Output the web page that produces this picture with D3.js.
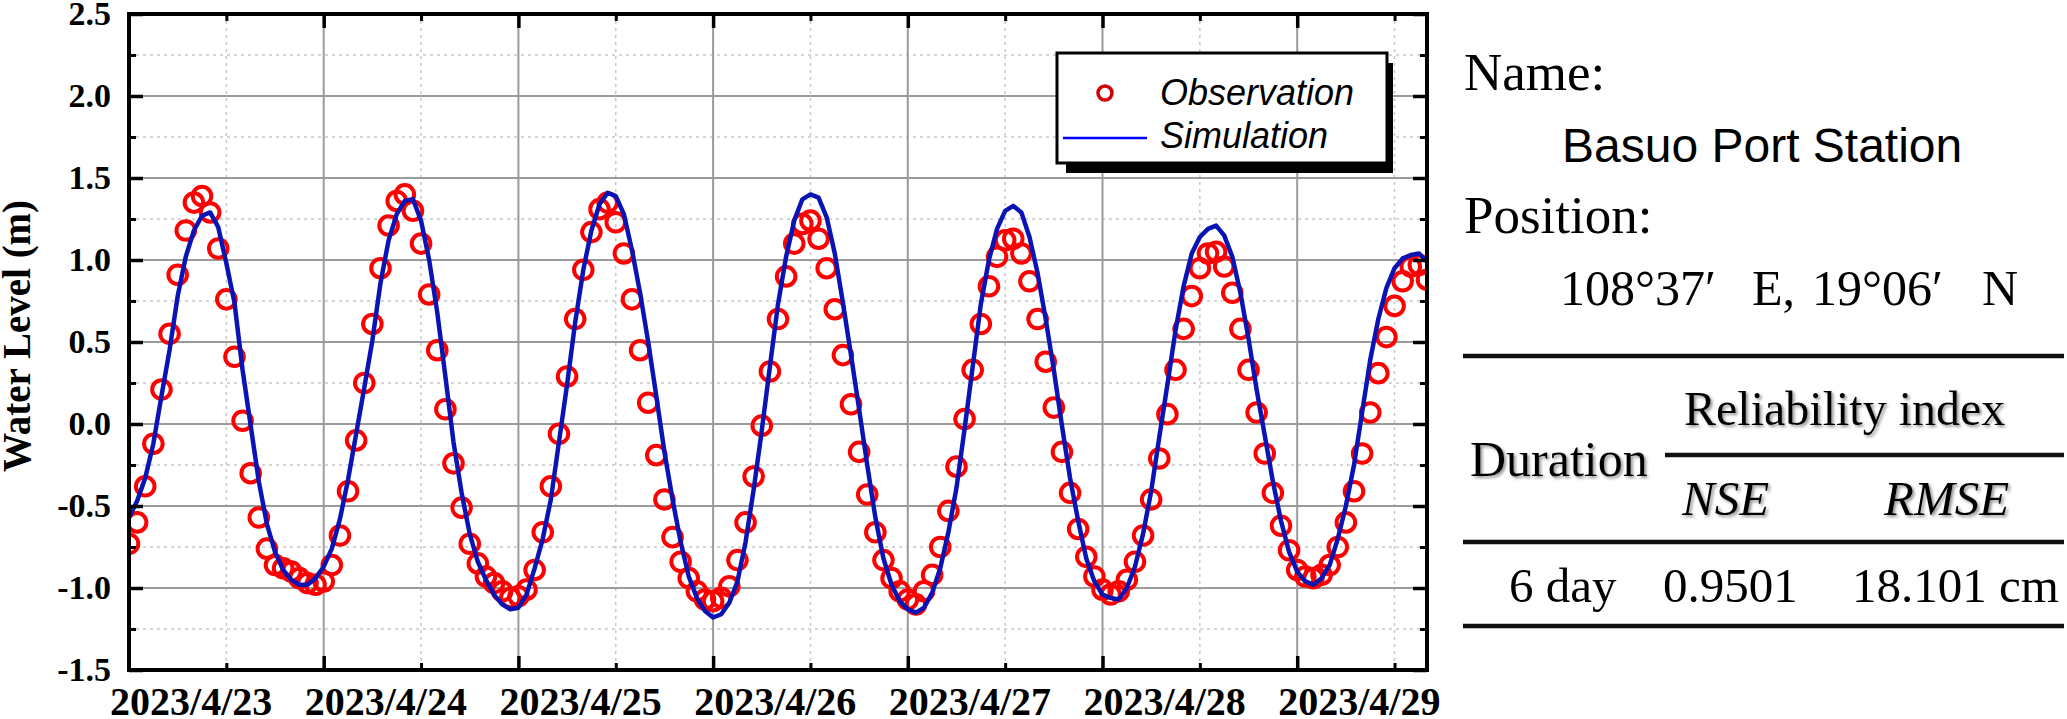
<!DOCTYPE html>
<html>
<head>
<meta charset="utf-8">
<script src="https://cdn.jsdelivr.net/npm/d3@7"></script>
<style>
    body { margin: 0; background: #fff; }
    svg { display: block; }
</style>
</head>
<body>
<div id="chart"></div>
<script>
// Hourly water level (m), hour 0 = left edge of the axis
const obsLevel = [
    -0.73, -0.60, -0.38, -0.12, 0.21, 0.55, 0.91, 1.18, 1.35, 1.39,
    1.29, 1.07, 0.76, 0.41, 0.02, -0.30, -0.57, -0.76, -0.86, -0.88,
    -0.90, -0.94, -0.97, -0.98, -0.96, -0.86, -0.68, -0.41, -0.10, 0.25,
    0.61, 0.95, 1.21, 1.36, 1.40, 1.30, 1.10, 0.79, 0.45, 0.09,
    -0.24, -0.51, -0.73, -0.85, -0.93, -0.97, -1.02, -1.06, -1.05, -1.01,
    -0.89, -0.66, -0.38, -0.06, 0.29, 0.64, 0.94, 1.17, 1.31, 1.35,
    1.23, 1.04, 0.76, 0.45, 0.13, -0.19, -0.46, -0.69, -0.84, -0.94,
    -1.02, -1.07, -1.08, -1.06, -0.99, -0.83, -0.60, -0.32, -0.01, 0.32,
    0.64, 0.90, 1.10, 1.22, 1.24, 1.13, 0.95, 0.70, 0.42, 0.12,
    -0.17, -0.43, -0.66, -0.83, -0.94, -1.02, -1.07, -1.10, -1.02, -0.92,
    -0.75, -0.53, -0.26, 0.03, 0.33, 0.61, 0.84, 1.02, 1.12, 1.13,
    1.04, 0.87, 0.64, 0.38, 0.10, -0.17, -0.42, -0.64, -0.81, -0.93,
    -1.01, -1.04, -1.02, -0.95, -0.84, -0.68, -0.46, -0.21, 0.06, 0.33,
    0.58, 0.78, 0.95, 1.04, 1.05, 0.96, 0.80, 0.58, 0.33, 0.07,
    -0.18, -0.42, -0.62, -0.77, -0.89, -0.93, -0.94, -0.92, -0.86, -0.75,
    -0.60, -0.41, -0.18, 0.07, 0.31, 0.53, 0.72, 0.87, 0.96, 0.97,
    0.88
];

const simLevel = [
    -0.57, -0.47, -0.33, -0.12, 0.17, 0.45, 0.78, 1.02, 1.18, 1.27,
    1.29, 1.20, 0.98, 0.74, 0.33, -0.01, -0.35, -0.61, -0.78, -0.89,
    -0.95, -0.98, -0.98, -0.94, -0.87, -0.76, -0.58, -0.34, -0.06, 0.22,
    0.51, 0.86, 1.12, 1.28, 1.36, 1.37, 1.24, 1.00, 0.68, 0.29,
    -0.11, -0.42, -0.67, -0.84, -0.95, -1.04, -1.10, -1.13, -1.12, -1.04,
    -0.88, -0.70, -0.46, -0.11, 0.24, 0.62, 0.94, 1.18, 1.34, 1.41,
    1.39, 1.28, 1.06, 0.80, 0.50, 0.17, -0.17, -0.46, -0.72, -0.93,
    -1.06, -1.14, -1.18, -1.16, -1.09, -0.96, -0.72, -0.40, -0.04, 0.35,
    0.73, 1.02, 1.24, 1.37, 1.40, 1.38, 1.26, 1.04, 0.74, 0.42,
    0.09, -0.25, -0.57, -0.82, -0.98, -1.08, -1.13, -1.15, -1.12, -1.03,
    -0.88, -0.66, -0.39, -0.03, 0.35, 0.73, 1.00, 1.19, 1.30, 1.33,
    1.29, 1.14, 0.92, 0.64, 0.33, -0.01, -0.33, -0.59, -0.82, -0.96,
    -1.04, -1.06, -1.07, -1.00, -0.87, -0.67, -0.41, -0.08, 0.24, 0.57,
    0.84, 1.04, 1.14, 1.19, 1.21, 1.15, 1.02, 0.80, 0.52, 0.21,
    -0.07, -0.35, -0.59, -0.78, -0.90, -0.96, -0.98, -0.94, -0.86, -0.70,
    -0.50, -0.25, 0.07, 0.39, 0.64, 0.83, 0.95, 1.01, 1.03, 1.04,
    0.99
];

// Axis ticks (x in hours)
const dateLabels = ["2023/4/23", "2023/4/24", "2023/4/25", "2023/4/26", "2023/4/27", "2023/4/28", "2023/4/29"];
const xMajorTicks = [24, 48, 72, 96, 120, 144];
const xMinorTicks = [12, 36, 60, 84, 108, 132, 156];
const yMajorTicks = [-1.5, -1.0, -0.5, 0.0, 0.5, 1.0, 1.5, 2.0, 2.5];
const yMinorTicks = [-1.25, -0.75, -0.25, 0.25, 0.75, 1.25, 1.75, 2.25];

// Table on the right
const stationName = "Basuo Port Station";
const stationPos = ["108°37′", "E,", "19°06′", "N"];
const tableRow = ["6 day", "0.9501", "18.101 cm"];

const width = 2067, height = 719;
const plot = { left: 129, top: 14, right: 1427, bottom: 670 };

const svg = d3.select("#chart").append("svg")
    .attr("width", width)
    .attr("height", height);

const defs = svg.append("defs");
defs.append("clipPath").attr("id", "plotClip")
    .append("rect")
    .attr("x", plot.left).attr("y", plot.top)
    .attr("width", plot.right - plot.left).attr("height", plot.bottom - plot.top);
defs.append("filter").attr("id", "shadow")
    .attr("x", "-10%").attr("y", "-10%").attr("width", "130%").attr("height", "140%")
    .append("feDropShadow")
    .attr("dx", 2).attr("dy", 2).attr("stdDeviation", 1.5)
    .attr("flood-color", "#666").attr("flood-opacity", 0.7);

const x = d3.scaleLinear().domain([0, obsLevel.length - 1]).range([plot.left, plot.right]);
const y = d3.scaleLinear().domain([-1.5, 2.5]).range([plot.bottom, plot.top]);

// Grid lines
const grid = svg.append("g");
grid.selectAll(".vminor").data(xMinorTicks).join("line")
    .attr("x1", d => x(d)).attr("x2", d => x(d))
    .attr("y1", plot.top).attr("y2", plot.bottom)
    .attr("stroke", "#c8c8c8").attr("stroke-width", 1.5).attr("stroke-dasharray", "3,4");
grid.selectAll(".hminor").data(yMinorTicks).join("line")
    .attr("y1", d => y(d)).attr("y2", d => y(d))
    .attr("x1", plot.left).attr("x2", plot.right)
    .attr("stroke", "#c8c8c8").attr("stroke-width", 1.5).attr("stroke-dasharray", "3,4");
grid.selectAll(".vmajor").data(xMajorTicks).join("line")
    .attr("x1", d => x(d)).attr("x2", d => x(d))
    .attr("y1", plot.top).attr("y2", plot.bottom)
    .attr("stroke", "#9b9b9b").attr("stroke-width", 2);
grid.selectAll(".hmajor").data(yMajorTicks.slice(1, -1)).join("line")
    .attr("y1", d => y(d)).attr("y2", d => y(d))
    .attr("x1", plot.left).attr("x2", plot.right)
    .attr("stroke", "#9b9b9b").attr("stroke-width", 2);

// Data
const dataG = svg.append("g").attr("clip-path", "url(#plotClip)");
dataG.selectAll("circle").data(obsLevel).join("circle")
    .attr("cx", (d, i) => x(i))
    .attr("cy", d => y(d))
    .attr("r", 9.3)
    .attr("fill", "none")
    .attr("stroke", "#ff0000")
    .attr("stroke-width", 4);

const line = d3.line().x((d, i) => x(i)).y(d => y(d));
dataG.append("path")
    .datum(simLevel)
    .attr("d", line)
    .attr("fill", "none")
    .attr("stroke", "#0a14b4")
    .attr("stroke-width", 4.5)
    .attr("stroke-linejoin", "round");

// Ticks (all pointing inward)
function styleTicks(g, w) {
    g.select(".domain").remove();
    g.selectAll(".tick line").attr("stroke", "#000").attr("stroke-width", w);
}
svg.append("g").attr("transform", `translate(0,${plot.bottom})`)
    .call(d3.axisBottom(x).tickValues(xMajorTicks).tickSize(-14).tickFormat(""))
    .call(g => styleTicks(g, 3.5));
svg.append("g").attr("transform", `translate(0,${plot.bottom})`)
    .call(d3.axisBottom(x).tickValues(xMinorTicks).tickSize(-7).tickFormat(""))
    .call(g => styleTicks(g, 3));
svg.append("g").attr("transform", `translate(0,${plot.top})`)
    .call(d3.axisTop(x).tickValues(xMajorTicks).tickSize(-14).tickFormat(""))
    .call(g => styleTicks(g, 3.5));
svg.append("g").attr("transform", `translate(0,${plot.top})`)
    .call(d3.axisTop(x).tickValues(xMinorTicks).tickSize(-7).tickFormat(""))
    .call(g => styleTicks(g, 3));
svg.append("g").attr("transform", `translate(${plot.right},0)`)
    .call(d3.axisRight(y).tickValues(yMajorTicks).tickSize(-14).tickFormat(""))
    .call(g => styleTicks(g, 3.5));
svg.append("g").attr("transform", `translate(${plot.right},0)`)
    .call(d3.axisRight(y).tickValues(yMinorTicks).tickSize(-7).tickFormat(""))
    .call(g => styleTicks(g, 3));
svg.append("g").attr("transform", `translate(${plot.left},0)`)
    .call(d3.axisLeft(y).tickValues(yMinorTicks).tickSize(-7).tickFormat(""))
    .call(g => styleTicks(g, 3));

// Y axis with labels
svg.append("g").attr("transform", `translate(${plot.left},0)`)
    .call(d3.axisLeft(y).tickValues(yMajorTicks).tickSize(-14).tickPadding(18)
        .tickFormat(d => d.toFixed(1)))
    .call(g => styleTicks(g, 3.5))
    .call(g => g.selectAll(".tick text")
        .attr("font-family", "Liberation Serif, Times New Roman, serif")
        .attr("font-weight", "bold")
        .attr("font-size", 34)
        .attr("fill", "#000"));

// Date labels (offset from the day ticks, as in the original figure)
const labelPos = dateLabels.map((d, i) => 7.6 + 24 * i);
svg.append("g").attr("transform", `translate(0,${plot.bottom})`)
    .call(d3.axisBottom(x).tickValues(labelPos).tickSize(0).tickPadding(17)
        .tickFormat((d, i) => dateLabels[i]))
    .call(g => g.select(".domain").remove())
    .call(g => g.selectAll(".tick text")
        .attr("font-family", "Liberation Serif, Times New Roman, serif")
        .attr("font-weight", "bold")
        .attr("font-size", 40)
        .attr("fill", "#000"));

// Frame
svg.append("rect")
    .attr("x", plot.left).attr("y", plot.top)
    .attr("width", plot.right - plot.left).attr("height", plot.bottom - plot.top)
    .attr("fill", "none").attr("stroke", "#000").attr("stroke-width", 4);

// Y title
svg.append("text")
    .attr("transform", "translate(30,336) rotate(-90)")
    .attr("text-anchor", "middle")
    .attr("font-family", "Liberation Serif, Times New Roman, serif")
    .attr("font-weight", "bold")
    .attr("font-size", 39)
    .text("Water Level (m)");

// Legend
const legend = svg.append("g");
legend.append("rect").attr("x", 1066).attr("y", 63).attr("width", 327).attr("height", 110).attr("fill", "#000");
legend.append("rect").attr("x", 1057).attr("y", 53).attr("width", 330).attr("height", 110)
    .attr("fill", "#fff").attr("stroke", "#000").attr("stroke-width", 3);
legend.append("circle").attr("cx", 1105).attr("cy", 93).attr("r", 7)
    .attr("fill", "none").attr("stroke", "#d00000").attr("stroke-width", 3.5);
legend.append("line").attr("x1", 1063).attr("x2", 1147).attr("y1", 138).attr("y2", 138)
    .attr("stroke", "#0000ff").attr("stroke-width", 2.5);
legend.selectAll(".ltext").data(["Observation", "Simulation"]).join("text")
    .attr("x", 1160)
    .attr("y", (d, i) => 105 + i * 43)
    .attr("font-family", "Liberation Sans, Arial, sans-serif")
    .attr("font-style", "italic")
    .attr("font-size", 36)
    .text(d => d);

// Right panel
const serif = "Liberation Serif, Times New Roman, serif";
const info = svg.append("g");
info.append("text").attr("x", 1464).attr("y", 90).attr("font-family", serif).attr("font-size", 53).text("Name:");
info.append("text").attr("x", 1562).attr("y", 162)
    .attr("font-family", "Liberation Sans, Arial, sans-serif").attr("font-size", 48).text(stationName);
info.append("text").attr("x", 1464).attr("y", 233).attr("font-family", serif).attr("font-size", 53).text("Position:");
const posX = [1560, 1752, 1812, 1982];
info.selectAll(".pos").data(stationPos).join("text")
    .attr("x", (d, i) => posX[i]).attr("y", 305)
    .attr("font-family", serif).attr("font-size", 50)
    .text(d => d);

// Table rules
const rules = [
    { x1: 1463, x2: 2064, y: 356 },
    { x1: 1665, x2: 2064, y: 455 },
    { x1: 1463, x2: 2064, y: 542 },
    { x1: 1463, x2: 2064, y: 626 }
];
info.selectAll(".rule").data(rules).join("line")
    .attr("x1", d => d.x1).attr("x2", d => d.x2)
    .attr("y1", d => d.y).attr("y2", d => d.y)
    .attr("stroke", "#111").attr("stroke-width", 4.5);

const heads = [
    { t: "Reliability index", x: 1684, y: 425, size: 48, italic: false },
    { t: "Duration", x: 1470, y: 476, size: 50, italic: false },
    { t: "NSE", x: 1682, y: 515, size: 49, italic: true },
    { t: "RMSE", x: 1884, y: 515, size: 49, italic: true }
];
info.selectAll(".head").data(heads).join("text")
    .attr("x", d => d.x).attr("y", d => d.y)
    .attr("font-family", serif).attr("font-size", d => d.size)
    .attr("font-style", d => d.italic ? "italic" : "normal")
    .attr("filter", "url(#shadow)")
    .text(d => d.t);

const rowX = [1509, 1663, 1852];
info.selectAll(".cell").data(tableRow).join("text")
    .attr("x", (d, i) => rowX[i]).attr("y", 602)
    .attr("font-family", serif).attr("font-size", 49)
    .text(d => d);
</script>
</body>
</html>
